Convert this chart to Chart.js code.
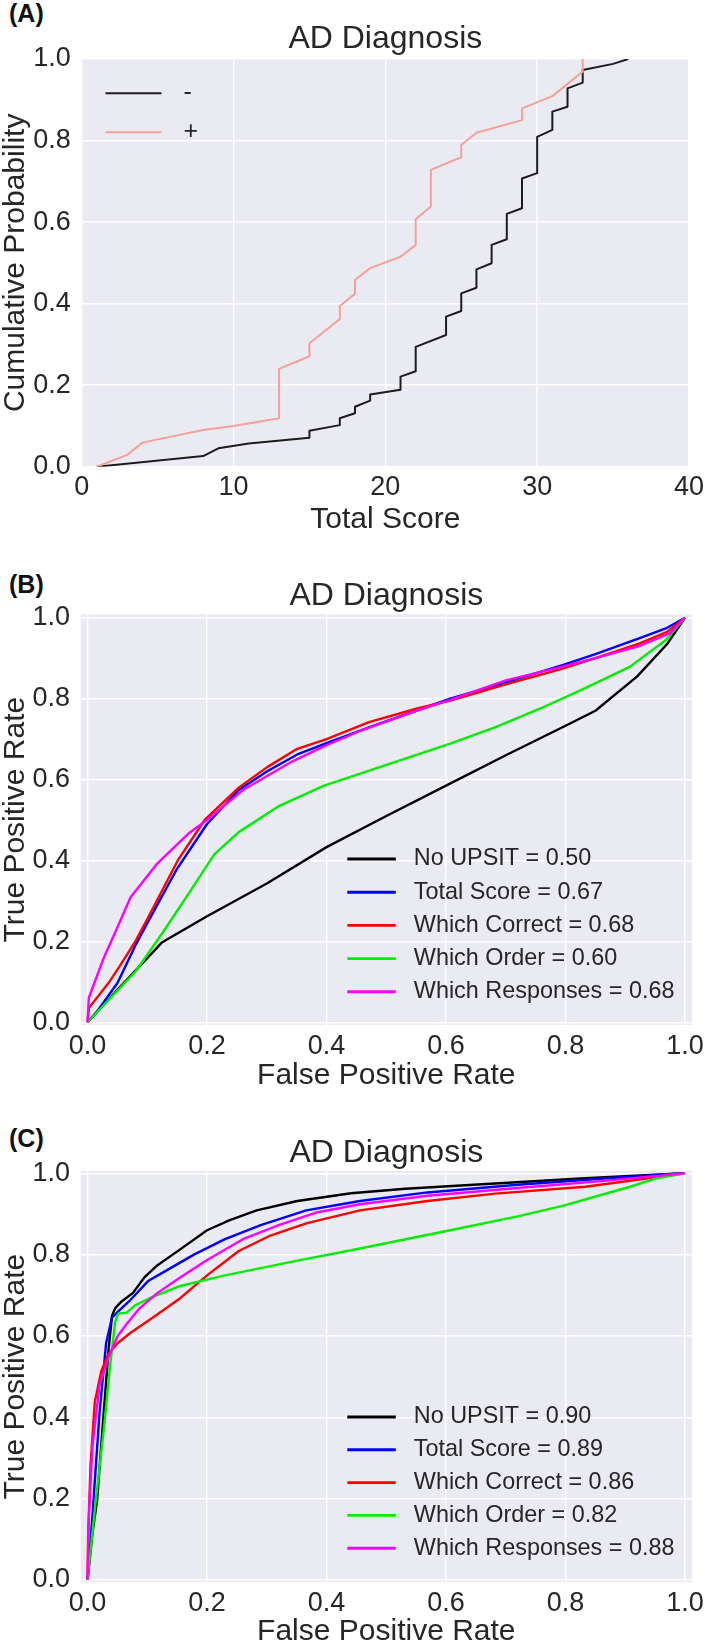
<!DOCTYPE html>
<html>
<head>
<meta charset="utf-8">
<script src="https://cdn.jsdelivr.net/npm/chart.js@4.4.1/dist/chart.umd.min.js"></script>
<style>
  body { margin: 0; background: #fff; width: 709px; height: 1645px; position: relative; overflow: hidden;
         font-family: "Liberation Sans", Arial, sans-serif; }
  canvas { position: absolute; left: 0; }
  .tag { position: absolute; left: 9px; font-size: 25px; line-height: 25px; font-weight: bold; color: #111; }
</style>
</head>
<body>
<div class="tag" style="top:1px">(A)</div>
<div class="tag" style="top:572px">(B)</div>
<div class="tag" style="top:1126px">(C)</div>
<canvas id="chartA" width="709" height="540" style="top:0"></canvas>
<canvas id="chartB" width="709" height="560" style="top:540px"></canvas>
<canvas id="chartC" width="709" height="560" style="top:1100px"></canvas>

<script>
/* ---------- (A) cumulative distribution of total score ---------- */
const negScores = [1, 8, 9, 11, 15, 15, 17, 17, 18, 18, 19, 19, 21, 21, 22, 22, 24, 24, 25, 25, 26, 26,
                   27, 27, 28, 28, 29, 29, 30, 30, 31, 31, 32, 32, 33, 33, 35, 36];
const negCum = [0, 0.026, 0.045, 0.057, 0.071, 0.088, 0.102, 0.119, 0.131, 0.147, 0.162, 0.177, 0.189,
                0.221, 0.234, 0.294, 0.323, 0.368, 0.382, 0.425, 0.439, 0.484, 0.499, 0.544, 0.558, 0.620,
                0.634, 0.707, 0.720, 0.809, 0.826, 0.871, 0.883, 0.928, 0.942, 0.973, 0.988, 1.0];
const posScores = [1, 3, 4, 8, 10, 13, 13, 15, 15, 17, 17, 18, 18, 19, 21, 22, 22, 23, 23, 25, 25, 26,
                   29, 29, 31, 33, 33];
const posCum = [0, 0.029, 0.059, 0.09, 0.10, 0.119, 0.24, 0.271, 0.303, 0.362, 0.394, 0.424, 0.458, 0.487,
                0.515, 0.544, 0.607, 0.638, 0.728, 0.759, 0.789, 0.819, 0.850, 0.879, 0.909, 0.969, 1.0];
const scoreTicks = [0, 10, 20, 30, 40];
const probTicks = [0, 0.2, 0.4, 0.6, 0.8, 1.0];

/* ---------- ROC legend ---------- */
const rocNames = ['No UPSIT', 'Total Score', 'Which Correct', 'Which Order', 'Which Responses'];
const aucB = [0.50, 0.67, 0.68, 0.60, 0.68];
const aucC = [0.90, 0.89, 0.86, 0.82, 0.88];
const rateTicks = [0, 0.2, 0.4, 0.6, 0.8, 1.0];

/* ---------- (B) ROC curves ---------- */
const bNoUpsitFpr = [0, 0.05, 0.125, 0.2, 0.3, 0.4, 0.5, 0.6, 0.7, 0.8, 0.85, 0.92, 0.97, 1.0];
const bNoUpsitTpr = [0, 0.08, 0.198, 0.262, 0.343, 0.433, 0.51, 0.585, 0.66, 0.733, 0.77, 0.855, 0.935, 1.0];
const bTotalFpr = [0, 0.016, 0.05, 0.08, 0.1, 0.15, 0.2, 0.253, 0.3, 0.351, 0.4, 0.471, 0.55, 0.607, 0.7, 0.795, 0.85, 0.923, 0.97, 1.0];
const bTotalTpr = [0, 0.027, 0.097, 0.19, 0.245, 0.38, 0.49, 0.574, 0.62, 0.662, 0.69, 0.729, 0.77, 0.8, 0.84, 0.883, 0.91, 0.949, 0.975, 1.0];
const bCorrectFpr = [0, 0.002, 0.035, 0.053, 0.08, 0.1, 0.151, 0.196, 0.253, 0.3, 0.351, 0.4, 0.471, 0.55, 0.607, 0.7, 0.795, 0.85, 0.923, 0.97, 1.0];
const bCorrectTpr = [0, 0.035, 0.097, 0.137, 0.2, 0.255, 0.4, 0.5, 0.58, 0.63, 0.676, 0.70, 0.742, 0.775, 0.795, 0.835, 0.874, 0.9, 0.936, 0.965, 1.0];
const bOrderFpr = [0, 0.035, 0.08, 0.125, 0.17, 0.212, 0.253, 0.321, 0.396, 0.494, 0.607, 0.682, 0.757, 0.833, 0.908, 0.968, 1.0];
const bOrderTpr = [0, 0.055, 0.125, 0.22, 0.32, 0.415, 0.47, 0.535, 0.585, 0.633, 0.689, 0.729, 0.775, 0.826, 0.879, 0.945, 1.0];
const bResponsesFpr = [0, 0.002, 0.027, 0.05, 0.072, 0.117, 0.17, 0.2, 0.26, 0.343, 0.4, 0.456, 0.55, 0.607, 0.7, 0.795, 0.85, 0.923, 0.975, 1.0];
const bResponsesTpr = [0, 0.06, 0.159, 0.235, 0.309, 0.393, 0.468, 0.5, 0.574, 0.645, 0.685, 0.72, 0.77, 0.797, 0.845, 0.879, 0.9, 0.93, 0.962, 1.0];

/* ---------- (C) ROC curves ---------- */
const cNoUpsitFpr = [0, 0.008, 0.016, 0.027, 0.035, 0.041, 0.046, 0.057, 0.076, 0.095, 0.117, 0.155, 0.2, 0.238, 0.283, 0.351, 0.441, 0.532, 0.682, 0.833, 1.0];
const cNoUpsitTpr = [0, 0.112, 0.197, 0.411, 0.565, 0.65, 0.668, 0.685, 0.706, 0.744, 0.774, 0.813, 0.86, 0.885, 0.909, 0.932, 0.951, 0.962, 0.975, 0.988, 1.0];
const cTotalFpr = [0, 0.008, 0.02, 0.031, 0.041, 0.053, 0.072, 0.102, 0.133, 0.178, 0.23, 0.291, 0.366, 0.456, 0.569, 0.72, 0.87, 1.0];
const cTotalTpr = [0, 0.155, 0.411, 0.582, 0.646, 0.663, 0.689, 0.736, 0.762, 0.8, 0.838, 0.873, 0.909, 0.932, 0.953, 0.972, 0.988, 1.0];
const cCorrectFpr = [0, 0.001, 0.005, 0.012, 0.023, 0.035, 0.05, 0.072, 0.11, 0.155, 0.2, 0.253, 0.306, 0.366, 0.456, 0.569, 0.682, 0.833, 1.0];
const cCorrectTpr = [0, 0.112, 0.283, 0.437, 0.514, 0.556, 0.582, 0.608, 0.646, 0.693, 0.749, 0.809, 0.847, 0.877, 0.909, 0.932, 0.95, 0.967, 1.0];
const cOrderFpr = [0, 0.012, 0.027, 0.038, 0.046, 0.051, 0.065, 0.08, 0.11, 0.155, 0.23, 0.343, 0.456, 0.607, 0.72, 0.795, 0.908, 0.953, 1.0];
const cOrderTpr = [0, 0.172, 0.368, 0.531, 0.633, 0.655, 0.657, 0.676, 0.697, 0.723, 0.749, 0.783, 0.815, 0.86, 0.894, 0.92, 0.967, 0.988, 1.0];
const cResponsesFpr = [0, 0.002, 0.008, 0.02, 0.035, 0.05, 0.065, 0.087, 0.117, 0.155, 0.2, 0.26, 0.321, 0.381, 0.456, 0.569, 0.72, 0.87, 1.0];
const cResponsesTpr = [0, 0.155, 0.326, 0.479, 0.547, 0.599, 0.629, 0.668, 0.706, 0.744, 0.787, 0.838, 0.873, 0.903, 0.924, 0.945, 0.964, 0.982, 1.0];

/* ---------- styling ---------- */
const INK = '#262626';
const PLOT_BG = '#eaeaf2';
const FONT = '"Liberation Sans", Arial, sans-serif';
const rocColors = ['#000000', '#0000ff', '#ff0000', '#00ee00', '#ff00ff'];

const pts = (xs, ys) => xs.map((x, i) => ({ x, y: ys[i] }));
const fmt1 = v => Number(v).toFixed(1);

// grey panel behind the grid
const plotBg = {
  id: 'plotBg',
  beforeDraw(chart) {
    const { ctx, chartArea: a } = chart;
    ctx.save();
    ctx.fillStyle = PLOT_BG;
    ctx.fillRect(a.left, a.top, a.right - a.left, a.bottom - a.top);
    ctx.restore();
  }
};

// legend drawn inside the plot, matplotlib style (no frame)
const inPlotLegend = {
  id: 'inPlotLegend',
  afterDatasetsDraw(chart, args, o) {
    const { ctx } = chart;
    ctx.save();
    ctx.font = o.size + 'px ' + FONT;
    ctx.textBaseline = 'middle';
    ctx.textAlign = 'left';
    chart.data.datasets.forEach((ds, i) => {
      const y = o.y + i * o.rowH;
      ctx.strokeStyle = ds.borderColor;
      ctx.lineWidth = o.lineW;
      ctx.beginPath();
      ctx.moveTo(o.x, y);
      ctx.lineTo(o.x + o.len, y);
      ctx.stroke();
      ctx.fillStyle = INK;
      ctx.fillText(ds.label, o.x + o.len + o.gap, y);
    });
    ctx.restore();
  }
};

function makeOptions(p) {
  return {
    responsive: false,
    animation: false,
    events: [],
    layout: { padding: { left: 0, right: p.padRight, top: 0, bottom: 0 } },
    elements: { point: { radius: 0 }, line: { tension: 0, borderJoinStyle: 'round' } },
    plugins: {
      legend: { display: false },
      tooltip: { enabled: false },
      title: {
        display: true, text: 'AD Diagnosis', color: INK, fullSize: false,
        font: { family: FONT, size: 32, weight: 'normal' },
        padding: { top: p.titleTop, bottom: p.titleBottom }
      },
      inPlotLegend: p.legend
    },
    scales: {
      x: {
        type: 'linear', min: p.xMin, max: p.xMax,
        afterBuildTicks: s => { s.ticks = p.xTicks.map(v => ({ value: v })); },
        afterFit: s => { s.height = p.xAxisH; },
        grid: { color: '#ffffff', lineWidth: 1.4, drawTicks: false },
        border: { display: false },
        ticks: { color: INK, font: { family: FONT, size: 27 }, padding: 5, maxRotation: 0, autoSkip: false, callback: p.xFmt },
        title: { display: true, text: p.xTitle, color: INK, font: { family: FONT, size: 30 }, padding: { top: 0, bottom: p.xTitlePad } }
      },
      y: {
        type: 'linear', min: p.yMin, max: p.yMax,
        afterBuildTicks: s => { s.ticks = p.yTicks.map(v => ({ value: v })); },
        afterFit: s => { s.width = p.yAxisW; },
        grid: { color: '#ffffff', lineWidth: 1.4, drawTicks: false },
        border: { display: false },
        ticks: { color: INK, font: { family: FONT, size: 27 }, padding: p.yTickPad, autoSkip: false, callback: fmt1 },
        title: { display: true, text: p.yTitle, color: INK, font: { family: FONT, size: 30 }, padding: { top: -2, bottom: 0 } }
      }
    }
  };
}

function rocDatasets(fprs, tprs, aucs) {
  return fprs.map((f, i) => ({
    label: rocNames[i] + ' = ' + aucs[i].toFixed(2),
    data: pts(f, tprs[i]),
    borderColor: rocColors[i],
    borderWidth: 2.4,
    order: fprs.length - i
  }));
}

// Panel A
new Chart(document.getElementById('chartA'), {
  type: 'line',
  data: {
    datasets: [
      { label: '-', data: pts(negScores, negCum), borderColor: '#1c1c1c', borderWidth: 2, order: 2 },
      { label: '+', data: pts(posScores, posCum), borderColor: '#f4a199', borderWidth: 2, order: 1 }
    ]
  },
  options: makeOptions({
    xMin: 0, xMax: 40, yMin: 0, yMax: 1, xTicks: scoreTicks, yTicks: probTicks,
    xFmt: v => String(v), xTitle: 'Total Score', yTitle: 'Cumulative Probability',
    yAxisW: 81.7, xAxisH: 73.3, padRight: 18, titleTop: 19.6, titleBottom: 1.0,
    xTitlePad: 2, yTickPad: 11,
    legend: { x: 105.5, y: 93.3, rowH: 39, len: 56, gap: 22, lineW: 2, size: 25 }
  }),
  plugins: [plotBg, inPlotLegend]
});

// Panel B
new Chart(document.getElementById('chartB'), {
  type: 'line',
  data: {
    datasets: rocDatasets(
      [bNoUpsitFpr, bTotalFpr, bCorrectFpr, bOrderFpr, bResponsesFpr],
      [bNoUpsitTpr, bTotalTpr, bCorrectTpr, bOrderTpr, bResponsesTpr], aucB)
  },
  options: makeOptions({
    xMin: -0.0115, xMax: 1.0115, yMin: -0.0067, yMax: 1.0084, xTicks: rateTicks, yTicks: rateTicks,
    xFmt: fmt1, xTitle: 'False Positive Rate', yTitle: 'True Positive Rate',
    yAxisW: 80.7, xAxisH: 75, padRight: 14, titleTop: 36.8, titleBottom: -0.9,
    xTitlePad: 6, yTickPad: 10.7,
    legend: { x: 347.3, y: 319, rowH: 33.2, len: 48.5, gap: 18, lineW: 2.9, size: 23.4 }
  }),
  plugins: [plotBg, inPlotLegend]
});

// Panel C
new Chart(document.getElementById('chartC'), {
  type: 'line',
  data: {
    datasets: rocDatasets(
      [cNoUpsitFpr, cTotalFpr, cCorrectFpr, cOrderFpr, cResponsesFpr],
      [cNoUpsitTpr, cTotalTpr, cCorrectTpr, cOrderTpr, cResponsesTpr], aucC)
  },
  options: makeOptions({
    xMin: -0.0115, xMax: 1.0115, yMin: -0.0057, yMax: 1.0057, xTicks: rateTicks, yTicks: rateTicks,
    xFmt: fmt1, xTitle: 'False Positive Rate', yTitle: 'True Positive Rate',
    yAxisW: 80.7, xAxisH: 77.7, padRight: 14, titleTop: 34, titleBottom: -1.4,
    xTitlePad: 10.4, yTickPad: 10.7,
    legend: { x: 347.3, y: 317, rowH: 32.8, len: 48.5, gap: 18, lineW: 2.9, size: 23.4 }
  }),
  plugins: [plotBg, inPlotLegend]
});
</script>
</body>
</html>
